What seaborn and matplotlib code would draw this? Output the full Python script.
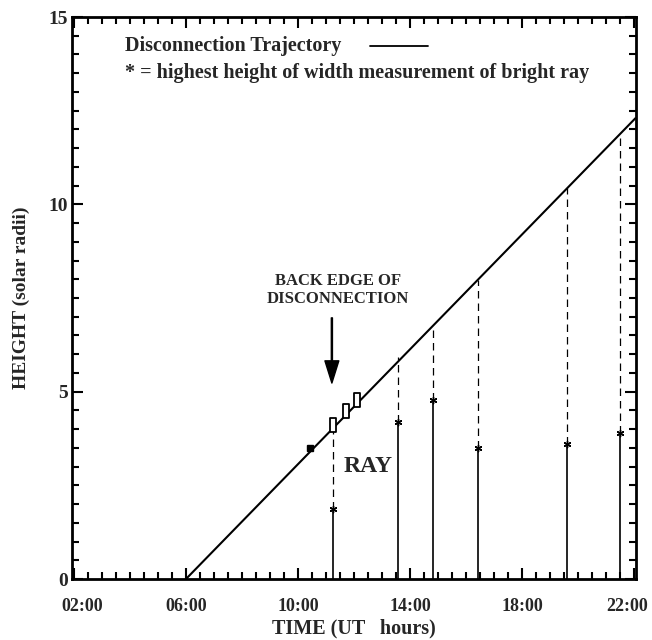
import numpy as np
import pandas as pd
import matplotlib
matplotlib.use("Agg")
import matplotlib.pyplot as plt
from matplotlib.lines import Line2D
from matplotlib.path import Path
from matplotlib.ticker import FixedLocator, MultipleLocator
from matplotlib.transforms import ScaledTranslation
import seaborn as sns

# Disconnection trajectory (time in UT hours, height in solar radii)
traj_time = [6.0, 22.05]
traj_height = [0.0, 12.3]

# Measured positions of the back edge of the disconnection
edge_time = [10.43, 11.25, 11.71, 12.11]
edge_height = [3.50, 4.10, 4.48, 4.78]
edge_filled = [True, False, False, False]

# Bright ray: time of each width measurement, highest measured height,
# and the trajectory height at that time
ray_time = [11.25, 13.57, 14.82, 16.43, 19.61, 21.50]
ray_height = [1.87, 4.19, 4.78, 3.49, 3.60, 3.90]
ray_top = [4.08, 5.93, 6.78, 7.98, 10.43, 11.90]

xtick_pos = [2, 6, 10, 14, 18, 22]
xtick_labels = ["02:00", "06:00", "10:00", "14:00", "18:00", "22:00"]
ytick_pos = [0, 5, 10, 15]

sns.set_style("ticks")
plt.rcParams["font.family"] = ["Liberation Serif", "DejaVu Serif"]
plt.rcParams["font.weight"] = "bold"

fig = plt.figure(figsize=(6.52, 6.40), dpi=100)
ax = fig.add_axes([0.1104, 0.0953, 0.8651, 0.8781])

traj = pd.DataFrame({"time": traj_time, "height": traj_height})
sns.lineplot(data=traj, x="time", y="height", color="black", lw=1.5, ax=ax)

# ray: solid up to the measured height, dashed up to the trajectory
ax.vlines(ray_time, 0, ray_height, color="black", lw=1.2)
ax.vlines(ray_time, ray_height, ray_top, color="black", lw=0.9,
          linestyles=(0, (6, 4)))
rays = pd.DataFrame({"time": ray_time, "height": ray_height})
sns.scatterplot(data=rays, x="time", y="height", marker=(6, 2, 0), s=22,
                color="black", linewidth=1.0, ax=ax, zorder=4)

# back-edge measurements as tall boxes on the trajectory
box = Path([(-0.5, -1), (0.5, -1), (0.5, 1), (-0.5, 1), (-0.5, -1)],
           [Path.MOVETO, Path.LINETO, Path.LINETO, Path.LINETO, Path.CLOSEPOLY])
for t, h, filled in zip(edge_time, edge_height, edge_filled):
    if filled:
        ax.plot([t], [h], marker="s", ms=5, mew=1.0, mec="black",
                mfc="black", zorder=5)
    else:
        ax.plot([t], [h], marker=box, ms=10, mew=1.3, mec="black",
                mfc="white", zorder=5)

ax.set_xlim(1.93, 22.07)
ax.set_ylim(0, 15)

ax.xaxis.set_major_locator(FixedLocator(xtick_pos))
ax.set_xticklabels(xtick_labels)
ax.xaxis.set_minor_locator(MultipleLocator(0.5))
ax.yaxis.set_major_locator(FixedLocator(ytick_pos))
ax.yaxis.set_minor_locator(MultipleLocator(0.5))

ax.tick_params(which="both", direction="in", top=True, right=True,
               labeltop=False, labelright=False, color="black")
ax.tick_params(which="major", length=8, width=1.5)
ax.tick_params(which="minor", length=5, width=1.5)
ax.tick_params(axis="x", which="major", labelsize=13, pad=14)
ax.tick_params(axis="y", which="major", labelsize=14, pad=3)
for lab in ax.get_xticklabels() + ax.get_yticklabels():
    lab.set_fontweight("bold")
# keep the end labels inside the figure
xlabels = ax.get_xticklabels()
xlabels[0].set_transform(xlabels[0].get_transform() +
                         ScaledTranslation(8 / 100, 0, fig.dpi_scale_trans))
xlabels[-1].set_transform(xlabels[-1].get_transform() +
                          ScaledTranslation(-7 / 100, 0, fig.dpi_scale_trans))
for sp in ax.spines.values():
    sp.set_linewidth(2.0)
    sp.set_color("black")

ax.set_xlabel("TIME (UT   hours)", fontsize=14.5, fontweight="bold", labelpad=2)
ax.set_ylabel("HEIGHT (solar radii)", fontsize=14, fontweight="bold", labelpad=13)

# key
ax.text(0.094, 0.948, "Disconnection Trajectory", transform=ax.transAxes,
        fontsize=14.5, fontweight="bold", va="center", ha="left")
ax.add_line(Line2D([0.528, 0.631], [0.948, 0.948], transform=ax.transAxes,
                   color="black", lw=1.3))
ax.text(0.094, 0.900, "* = highest height of width measurement of bright ray",
        transform=ax.transAxes, fontsize=14.5, fontweight="bold",
        va="center", ha="left")

ax.text(11.43, 7.72, "BACK EDGE OF\nDISCONNECTION", fontsize=12,
        fontweight="bold", ha="center", va="center", linespacing=1.2)
ax.annotate("", xy=(11.21, 5.23), xytext=(11.21, 6.97),
            arrowprops=dict(facecolor="black", edgecolor="black", width=0.8,
                            headwidth=10, headlength=16, shrink=0))
ax.text(12.5, 2.99, "RAY", fontsize=17, fontweight="bold",
        ha="center", va="center")

fig.savefig("out.png", dpi=100)
